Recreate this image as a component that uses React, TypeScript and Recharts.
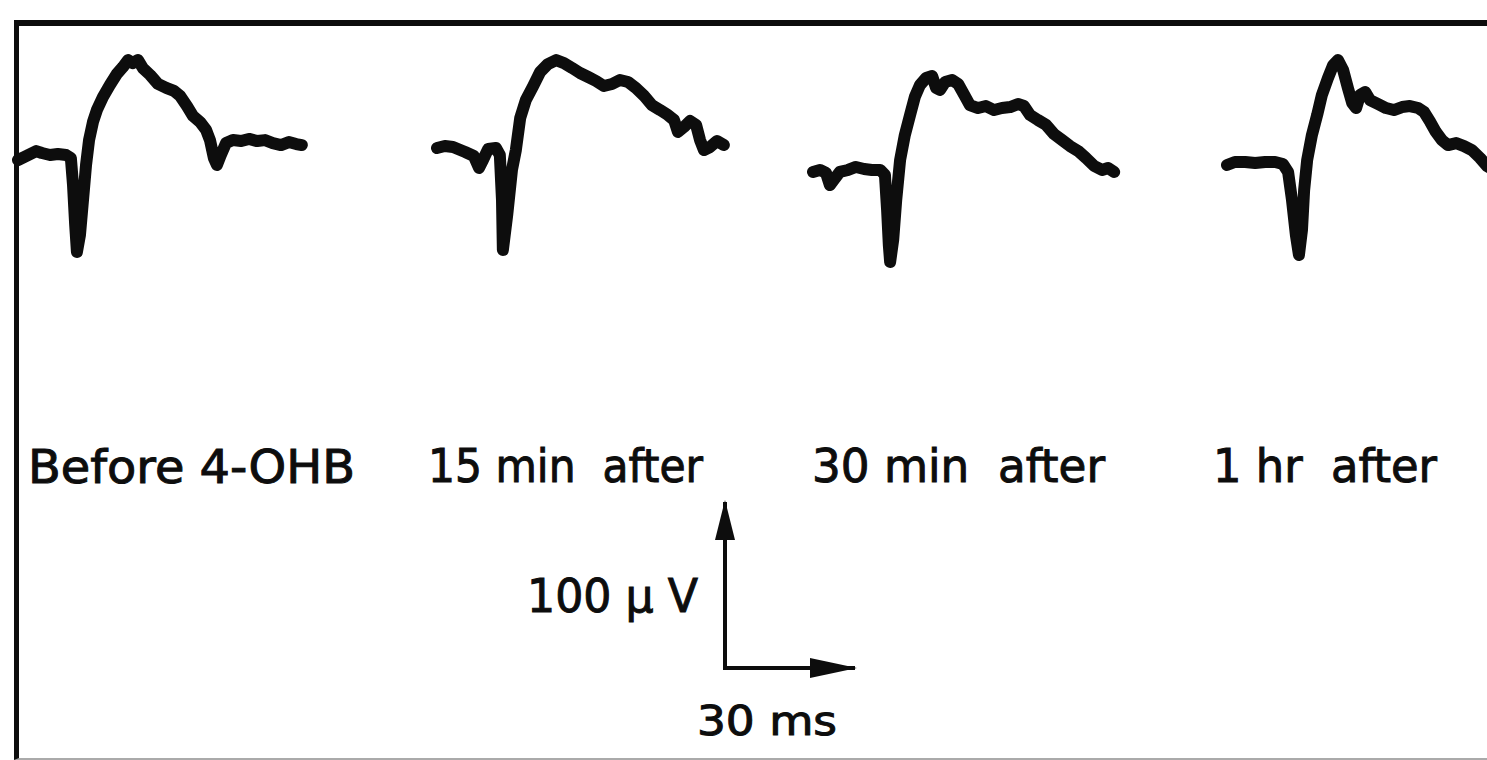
import { LineChart, Line, XAxis, YAxis } from "recharts";

// evoked potential sweeps, time in ms from sweep start, amplitude in µV
const beforeT = [0, 1.4, 2.8, 4.2, 5.5, 7.4, 9.2, 11.1, 12.2, 12.7, 13.2, 13.6, 14.3, 15.0, 15.7, 16.4, 17.3, 18.2, 19.6, 21.2, 22.8, 24.2, 25.4, 26.5, 27.7, 28.8, 30.5, 32.3, 34.2, 36.0, 37.4, 39.0, 40.4, 42.0, 43.4, 44.3, 45.2, 45.9, 46.8, 48.0, 49.6, 51.5, 53.3, 55.2, 57.0, 58.8, 60.7, 62.5, 64.2, 65.5];
const beforeV = [0, 1.8, 3.6, 5.4, 4.2, 3.0, 3.6, 3.0, 1.2, -15.1, -39.2, -55.4, -45.2, -24.1, -3.0, 12.0, 22.9, 30.1, 38.0, 45.2, 51.8, 56.0, 60.2, 58.4, 60.2, 55.4, 51.2, 45.8, 43.4, 41.6, 38.6, 32.5, 26.5, 22.9, 18.1, 12.0, 1.2, -3.0, 3.0, 10.2, 12.0, 11.4, 12.7, 11.4, 12.0, 10.2, 9.0, 10.8, 9.6, 9.0];

const min15T = [0, 1.8, 3.7, 6.5, 8.5, 9.7, 10.6, 11.8, 13.6, 14.5, 15.0, 15.2, 16.2, 17.3, 18.2, 19.2, 20.5, 22.2, 23.8, 25.6, 27.5, 29.3, 31.2, 33.0, 34.9, 36.7, 38.5, 40.4, 42.2, 44.1, 45.9, 47.8, 49.6, 51.5, 53.3, 54.7, 55.6, 57.0, 58.4, 59.8, 60.7, 61.6, 63.0, 64.6, 66.2];
const min15V = [7.2, 8.4, 7.8, 4.8, 2.4, -4.8, 0, 6.6, 7.2, 3.0, -24.1, -54.2, -33.1, -6.0, 6.0, 25.3, 36.1, 44.6, 53.0, 57.8, 60.2, 58.4, 55.4, 52.4, 50.0, 47.6, 44.6, 45.8, 48.2, 47.0, 43.4, 38.6, 33.1, 30.1, 27.1, 24.1, 16.9, 19.9, 23.5, 21.1, 12.0, 6.0, 7.8, 11.4, 9.0];

const min30T = [0, 1.6, 3.0, 3.9, 4.8, 6.2, 8.1, 9.9, 11.8, 13.6, 15.5, 16.6, 17.1, 17.5, 17.8, 18.5, 19.2, 20.1, 21.2, 22.4, 23.5, 24.7, 26.1, 27.5, 28.4, 29.3, 30.5, 32.1, 33.5, 34.9, 36.2, 38.1, 39.9, 41.8, 43.6, 45.5, 47.3, 48.7, 50.1, 51.9, 53.8, 55.6, 57.5, 59.3, 61.2, 63.0, 64.9, 66.7, 68.1, 69.5];
const min30V = [-7.2, -6.0, -7.8, -15.1, -12.0, -7.2, -6.0, -4.2, -5.4, -6.0, -6.0, -9.0, -30.1, -51.2, -61.4, -48.2, -24.1, 0, 15.1, 27.1, 38.0, 45.2, 49.4, 50.6, 43.4, 42.2, 47.0, 48.2, 45.8, 39.2, 33.1, 31.3, 32.5, 30.1, 31.3, 31.9, 33.7, 32.5, 27.1, 24.1, 21.1, 15.7, 12.0, 8.4, 5.4, 1.2, -3.6, -6.0, -4.8, -7.2];

const hr1T = [0, 1.8, 4.2, 6.5, 8.8, 11.1, 12.9, 14.1, 15.0, 15.9, 16.6, 17.3, 17.8, 18.5, 19.6, 20.8, 21.9, 23.3, 24.5, 25.6, 26.8, 27.9, 28.9, 29.8, 30.7, 31.9, 33.0, 34.9, 36.7, 38.5, 40.4, 42.2, 44.1, 45.5, 46.9, 48.2, 49.6, 51.0, 52.9, 54.7, 56.5, 58.4, 60.0, 61.6];
const hr1V = [-3.0, -1.2, -1.2, -1.8, -1.2, -1.2, -2.4, -7.2, -24.1, -45.2, -57.2, -42.2, -18.1, 0, 15.1, 27.1, 39.2, 49.4, 57.2, 60.2, 54.2, 43.4, 34.3, 31.3, 39.2, 41.0, 36.1, 33.7, 31.3, 30.1, 31.9, 32.5, 31.3, 28.9, 22.9, 16.9, 12.0, 9.0, 10.2, 8.4, 6.0, 1.2, -3.6, -6.0];

const LABELS = ["Before 4-OHB", "15 min  after", "30 min  after", "1 hr  after"];

// calibration bar: 100 µV up, 30 ms across
const SCALE_T = [0, 0, 30];
const SCALE_V = [100, 0, 0];
const SCALE_LABELS = ["100 μ V", "30 ms"];

const zip = (t: number[], v: number[]) => t.map((x, i) => ({ t: x, v: v[i] }));
const TRACES = [zip(beforeT, beforeV), zip(min15T, min15V), zip(min30T, min30V), zip(hr1T, hr1V)];

const PX_PER_MS = 130 / 30;
const PX_PER_UV = 166 / 100;
const INK = "#0d0d0d";
const FONT = "'DejaVu Sans', sans-serif";

// page layout of the sweeps
const PANEL_LEFT = [18, 437, 813, 1227];
const ZERO_Y = 160;
const PANEL_W = 340;
const PANEL_H = 280;
const PAD = 10;

// label placement [x, baseline, width, fontSize]
const LABEL_POS = [
  [28, 483, 327, 46],
  [428, 482, 275, 46],
  [812, 482, 293, 46],
  [1213, 482, 224, 46],
];
const SCALE_LABEL_POS = [
  [527, 612, 171, 46],
  [697, 735, 140, 40],
];

function Trace({ data, left }: { data: { t: number; v: number }[]; left: number }) {
  const tMax = (PANEL_W - 2 * PAD) / PX_PER_MS;
  const vHalf = (PANEL_H - 2 * PAD) / 2 / PX_PER_UV;
  return (
    <div style={{ position: "absolute", left: left - PAD, top: ZERO_Y - PANEL_H / 2 }}>
      <LineChart width={PANEL_W} height={PANEL_H} data={data} margin={{ top: PAD, right: PAD, bottom: PAD, left: PAD }}>
        <XAxis type="number" dataKey="t" domain={[0, tMax]} hide />
        <YAxis type="number" domain={[-vHalf, vHalf]} hide />
        <Line
          type="linear"
          dataKey="v"
          stroke={INK}
          strokeWidth={12}
          strokeLinejoin="round"
          strokeLinecap="round"
          dot={false}
          isAnimationActive={false}
        />
      </LineChart>
    </div>
  );
}

const arrowDot = (p: any) => {
  const { cx, cy, index } = p;
  if (index === 0) return <path key="up" d={`M${cx},${cy - 2} L${cx - 10},${cy + 38} L${cx + 10},${cy + 38} Z`} fill={INK} />;
  if (index === SCALE_T.length - 1)
    return <path key="right" d={`M${cx + 2},${cy} L${cx - 45},${cy - 10} L${cx - 45},${cy + 10} Z`} fill={INK} />;
  return <g key={`d${index}`} />;
};

function ScaleBar() {
  const sbPad = 30;
  const w = 30 * PX_PER_MS;
  const h = 100 * PX_PER_UV;
  const data = zip(SCALE_T, SCALE_V);
  return (
    <div style={{ position: "absolute", left: 725 - sbPad, top: 502 - sbPad }}>
      <LineChart width={w + 2 * sbPad} height={h + 2 * sbPad} data={data} margin={{ top: sbPad, right: sbPad, bottom: sbPad, left: sbPad }}>
        <XAxis type="number" dataKey="t" domain={[0, 30]} hide />
        <YAxis type="number" domain={[0, 100]} hide />
        <Line type="linear" dataKey="v" stroke={INK} strokeWidth={4} dot={arrowDot} isAnimationActive={false} />
      </LineChart>
    </div>
  );
}

export default function App() {
  return (
    <div style={{ position: "absolute", left: 0, top: 0, width: 1487, height: 760, overflow: "hidden", background: "#fff" }}>
      <div
        style={{
          position: "absolute",
          left: 14,
          top: 20,
          width: 1500,
          height: 740,
          boxSizing: "border-box",
          borderTop: `6px solid ${INK}`,
          borderLeft: `5px solid ${INK}`,
          borderBottom: "2px solid #aaa",
        }}
      />
      {TRACES.map((d, i) => (
        <Trace key={i} data={d} left={PANEL_LEFT[i]} />
      ))}
      <ScaleBar />
      <svg width={1487} height={760} style={{ position: "absolute", left: 0, top: 0, pointerEvents: "none" }}>
        {[...LABELS, ...SCALE_LABELS].map((s, i) => {
          const [x, y, len, fs] = [...LABEL_POS, ...SCALE_LABEL_POS][i];
          return (
            <text
              key={s}
              x={x}
              y={y}
              fontFamily={FONT}
              fontSize={fs}
              fill={INK}
              stroke={INK}
              strokeWidth={1}
              textLength={len}
              lengthAdjust="spacingAndGlyphs"
              style={{ whiteSpace: "pre" }}
            >
              {s}
            </text>
          );
        })}
      </svg>
    </div>
  );
}
